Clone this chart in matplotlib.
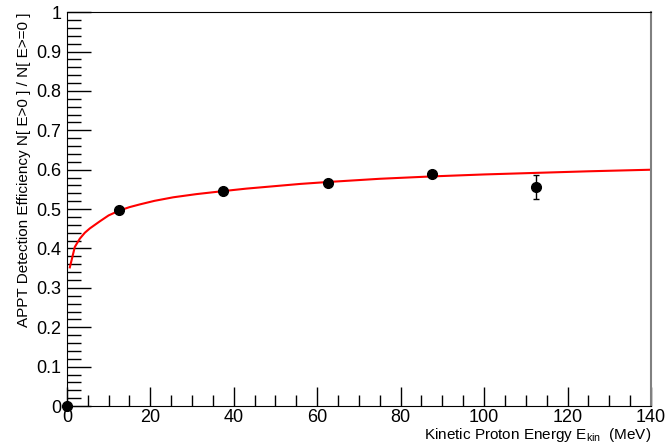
import matplotlib
matplotlib.use("Agg")
from matplotlib import pyplot as plt
from matplotlib.ticker import MultipleLocator

# measured efficiency points
energy = [0.0, 12.5, 37.5, 62.5, 87.5, 112.5]
efficiency = [0.0, 0.497, 0.545, 0.566, 0.590, 0.556]
efficiency_err = [0.0, 0.004, 0.004, 0.004, 0.004, 0.030]

# fit curve
fit_energy = [0.7, 1.9, 3.1, 4.3, 5.5, 7.9, 10.0, 12.5, 15.0, 17.5, 21.0, 25.5, 31.0, 37.7, 43.0, 49.5, 56.0, 62.8, 75.0, 87.5, 100.0, 112.5, 125.0, 140.0]
fit_efficiency = [0.352, 0.404, 0.425, 0.440, 0.451, 0.469, 0.484, 0.496, 0.505, 0.512, 0.521, 0.530, 0.538, 0.546, 0.552, 0.558, 0.564, 0.569, 0.577, 0.583, 0.588, 0.592, 0.596, 0.600]

plt.rcParams["font.family"] = ["Liberation Sans", "DejaVu Sans"]
plt.rcParams["mathtext.fontset"] = "custom"
plt.rcParams["mathtext.rm"] = "Liberation Sans"

fig = plt.figure(figsize=(6.69, 4.45), dpi=100)
ax = fig.add_axes([0.100, 0.0876, 0.873, 0.885])

ax.plot(fit_energy, fit_efficiency, color="red", linewidth=1.5, zorder=2)
ax.errorbar(energy, efficiency, yerr=efficiency_err, fmt="o", color="black",
            markersize=7, elinewidth=1, capsize=2.5, capthick=1, zorder=3, clip_on=False)

ax.set_xlim(0, 140)
ax.set_ylim(0, 1)

ax.xaxis.set_major_locator(MultipleLocator(20))
ax.xaxis.set_minor_locator(MultipleLocator(5))
ax.yaxis.set_minor_locator(MultipleLocator(0.02))
ax.set_yticks([0, 0.1, 0.2, 0.3, 0.4, 0.5, 0.6, 0.7, 0.8, 0.9, 1.0])
ax.set_yticklabels(["0", "0.1", "0.2", "0.3", "0.4", "0.5", "0.6", "0.7", "0.8", "0.9", "1"])

ax.tick_params(axis="both", which="both", direction="in", labelsize=13, top=False, right=False)
ax.tick_params(axis="y", which="major", length=17, width=1, pad=4)
ax.tick_params(axis="y", which="minor", length=10, width=1)
ax.tick_params(axis="x", which="major", length=14, width=1, pad=2)
ax.tick_params(axis="x", which="minor", length=8, width=1)

ax.spines["right"].set_color("#808080")
ax.spines["right"].set_linewidth(1.5)

ax.set_ylabel("APPT Detection Efficiency N[ E>0 ] / N[ E>=0 ]", fontsize=11)
ax.yaxis.set_label_coords(-0.062, 1.0)
ax.yaxis.label.set_horizontalalignment("right")

ax.set_xlabel(r"Kinetic Proton Energy E$_{\mathrm{kin}}$  (MeV)", fontsize=11)
ax.xaxis.set_label_coords(1.0, -0.05)
ax.xaxis.label.set_horizontalalignment("right")

fig.savefig("out.png", dpi=100)
